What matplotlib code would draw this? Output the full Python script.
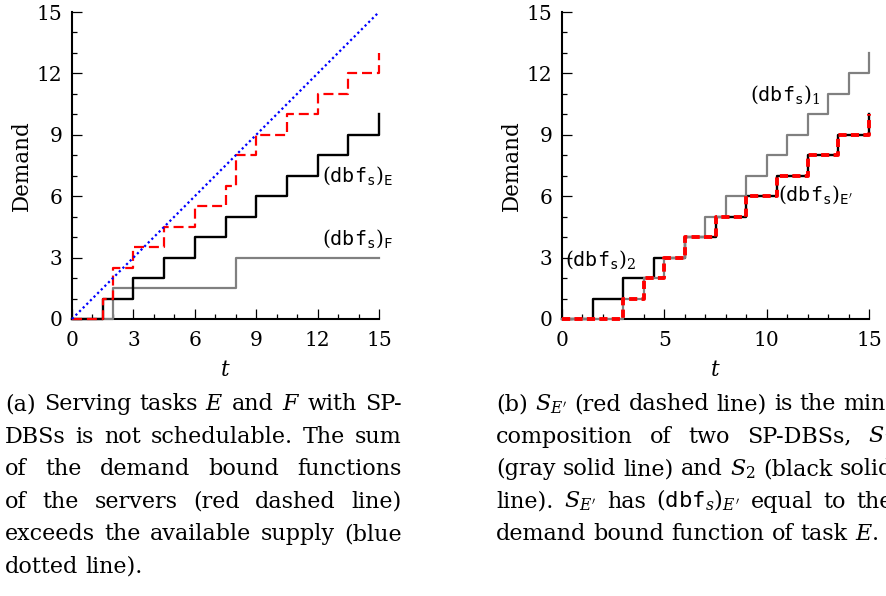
import matplotlib
matplotlib.use('Agg')
import matplotlib.pyplot as plt
from matplotlib.ticker import MultipleLocator
from matplotlib.transforms import IdentityTransform

plt.rcParams['font.family'] = ['DejaVu Serif']
plt.rcParams['mathtext.fontset'] = 'dejavuserif'

# (a) two servers E and F, their sum, and the supply
t_E = [0, 1.5, 3, 4.5, 6, 7.5, 9, 10.5, 12, 13.5, 15]
dbf_E = [0, 1, 2, 3, 4, 5, 6, 7, 8, 9, 10]
t_F = [0, 2, 8, 15]
dbf_F = [0, 1.5, 3, 3]
t_sum = [0, 1.5, 2, 3, 4.5, 6, 7.5, 8, 9, 10.5, 12, 13.5, 15]
dbf_sum = [0, 1, 2.5, 3.5, 4.5, 5.5, 6.5, 8, 9, 10, 11, 12, 13]
t_supply = [0, 15]
supply = [0, 15]

# (b) min-composition of S1 and S2
t_1 = [0, 3, 4, 5, 6, 7, 8, 9, 10, 11, 12, 13, 14, 15]
dbf_1 = [0, 1, 2, 3, 4, 5, 6, 7, 8, 9, 10, 11, 12, 13]
t_2 = [0, 1.5, 3, 4.5, 6, 7.5, 9, 10.5, 12, 13.5, 15]
dbf_2 = [0, 1, 2, 3, 4, 5, 6, 7, 8, 9, 10]
t_min = [0, 3, 4, 5, 6, 7.5, 9, 10.5, 12, 13.5, 15]
dbf_min = [0, 1, 2, 3, 4, 5, 6, 7, 8, 9, 10]

caption_a = [
    "(a) Serving tasks $E$ and $F$ with SP-",
    "DBSs is not schedulable. The sum",
    "of the demand bound functions",
    "of the servers (red dashed line)",
    "exceeds the available supply (blue",
    "dotted line).",
]
caption_b = [
    "(b) $S_{E'}$ (red dashed line) is the min-",
    "composition of two SP-DBSs, $S_1$",
    "(gray solid line) and $S_2$ (black solid",
    r"line). $S_{E'}$ has $(\mathtt{dbf}_s)_{E'}$ equal to the",
    "demand bound function of task $E$.",
]

W, H = 886, 596
fig = plt.figure(figsize=(W / 100, H / 100), dpi=100)
FS = 14.5

def make_axes(left_px, xmajor):
    ax = fig.add_axes([left_px / W, 1 - 319 / H, 307 / W, 307 / H])
    ax.set_xlim(0, 15)
    ax.set_ylim(0, 15)
    for s in ['top', 'right']:
        ax.spines[s].set_visible(False)
    for s in ['left', 'bottom']:
        ax.spines[s].set_linewidth(1.5)
    ax.xaxis.set_major_locator(MultipleLocator(xmajor))
    ax.xaxis.set_minor_locator(MultipleLocator(1))
    ax.yaxis.set_major_locator(MultipleLocator(3))
    ax.yaxis.set_minor_locator(MultipleLocator(1))
    ax.tick_params(which='both', direction='in', width=0.9, labelsize=FS)
    ax.tick_params(axis='x', pad=9)
    ax.tick_params(axis='y', pad=7)
    ax.tick_params(which='major', length=7)
    ax.tick_params(which='minor', length=3.6)
    ax.set_ylabel('Demand', fontsize=15.5)
    ax.set_xlabel('$t$', fontsize=15.5)
    ax.yaxis.set_label_coords(-0.128, 0.5)
    ax.xaxis.set_label_coords(0.5, -0.13)
    return ax

lab = r'$(\mathtt{dbf}_{\mathtt{s}})_{%s}$'

ax1 = make_axes(72, 3)
ax1.step(t_F, dbf_F, where='post', color='#808080', lw=1.6, clip_on=False, zorder=3)
ax1.step(t_E, dbf_E, where='post', color='black', lw=1.7, clip_on=False, zorder=4)
ax1.step(t_sum, dbf_sum, where='post', color='#ff0000', lw=1.6, dashes=(4.5, 2.2),
         clip_on=False, zorder=5)
ax1.plot(t_supply, supply, color='#0000ff', lw=1.6, dashes=(1, 1.3), clip_on=False, zorder=6)
ax1.text(12.2, 7.0, lab % r'\mathtt{E}', fontsize=FS, va='center', ha='left')
ax1.text(12.2, 3.9, lab % r'\mathtt{F}', fontsize=FS, va='center', ha='left')

ax2 = make_axes(562, 5)
ax2.step(t_2, dbf_2, where='post', color='black', lw=1.7, clip_on=False, zorder=3)
ax2.step(t_1, dbf_1, where='post', color='#808080', lw=1.6, clip_on=False, zorder=4)
ax2.step(t_min, dbf_min, where='post', color='#ff0000', lw=2.8, dashes=(2.1, 1.1),
         clip_on=False, zorder=5)
ax2.text(9.2, 10.95, lab % '1', fontsize=FS, va='center', ha='left')
ax2.text(10.55, 6.05, lab % r"\mathtt{E'}", fontsize=FS, va='center', ha='left')
ax2.text(0.15, 2.9, lab % '2', fontsize=FS, va='center', ha='left')

# captions, justified by hand
CFS = 16
renderer = fig.canvas.get_renderer()
space_px = 0.32 * CFS * 100 / 72

def justify(lines, x0, x1, base0, dy):
    for i, line in enumerate(lines):
        y = H - (base0 + i * dy)
        words = line.split(' ')
        texts = [fig.text(0, y, w, fontsize=CFS, va='baseline', ha='left',
                          transform=IdentityTransform()) for w in words]
        widths = [t.get_window_extent(renderer).width for t in texts]
        if i < len(lines) - 1 and len(words) > 1:
            gap = (x1 - x0 - sum(widths)) / (len(words) - 1)
        else:
            gap = space_px
        x = x0
        for t, w in zip(texts, widths):
            t.set_x(x)
            x += w + gap

justify(caption_a, 5, 402, 410, 32.6)
justify(caption_b, 496, 893, 410, 32.6)

fig.savefig('out.png', dpi=100)
